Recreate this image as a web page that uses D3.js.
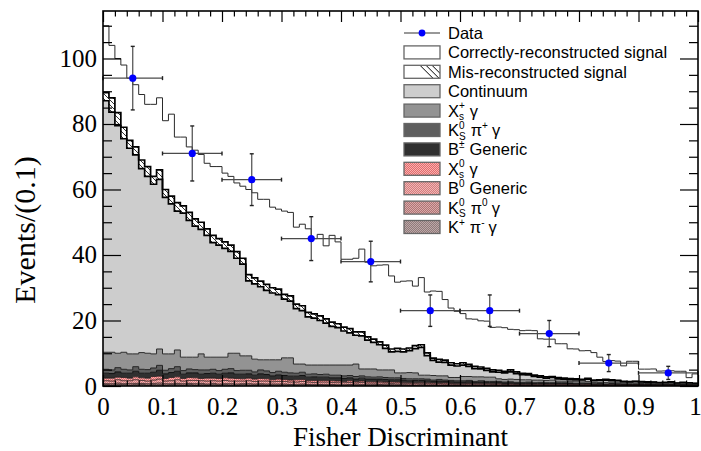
<!DOCTYPE html>
<html>
<head>
<meta charset="utf-8">
<script src="https://cdn.jsdelivr.net/npm/d3@7"></script>
<style>
  body { margin: 0; background: #fff; }
  svg { display: block; }
  .axis text { font-family: "Liberation Serif", "Times New Roman", serif; font-size: 25px; fill: #000; }
  .axis line { stroke: #000; stroke-width: 1.2px; }
  .title { font-family: "Liberation Serif", "Times New Roman", serif; fill: #000; }
  .legend text, .measure { font-family: "Liberation Sans", Arial, sans-serif; fill: #000; }
</style>
</head>
<body>
<div class="chart"></div>
<script>
// histogram binning
const nBins = 100;
const xLow = 0;
const xHigh = 1;

// tick values
const xMajorTicks = [0, 0.1, 0.2, 0.3, 0.4, 0.5, 0.6, 0.7, 0.8, 0.9, 1];
const xMinorTicks = [0.02, 0.04, 0.06, 0.08, 0.12, 0.14, 0.16, 0.18, 0.22, 0.24, 0.26, 0.28, 0.32, 0.34, 0.36, 0.38,
  0.42, 0.44, 0.46, 0.48, 0.52, 0.54, 0.56, 0.58, 0.62, 0.64, 0.66, 0.68, 0.72, 0.74, 0.76, 0.78,
  0.82, 0.84, 0.86, 0.88, 0.92, 0.94, 0.96, 0.98];
const yMajorTicks = [0, 20, 40, 60, 80, 100];
const yMinorTicks = [5, 10, 15, 25, 30, 35, 45, 50, 55, 65, 70, 75, 85, 90, 95, 105, 110];

// data points (events per 0.1)
const dataX = [0.05, 0.15, 0.25, 0.35, 0.45, 0.55, 0.65, 0.75, 0.85, 0.95];
const dataY = [94, 71, 63, 45, 38, 23, 23, 16, 7, 4];
const dataErr = [9.7, 8.4, 7.9, 6.7, 6.2, 4.8, 4.8, 4.0, 2.6, 2.0];
const dataHalfWidth = 0.05;

// stacked MC components, 100 bins each (bottom of the stack first)
const kPiMinus = [
  .4,.3,.5,.4,.3,.4,.5,.3,.4,.4, .3,.4,.4,.3,.5,.3,.4,.3,.4,.3,
  .4,.3,.3,.4,.3,.3,.4,.3,.3,.3, .3,.3,.2,.3,.3,.2,.3,.2,.3,.2,
  .2,.3,.2,.2,.2,.2,.3,.2,.2,.2, .2,.2,.1,.2,.2,.1,.2,.1,.2,.1,
  .1,.2,.1,.1,.1,.2,.1,.1,.1,.1, .1,.1,.1,.1,.1,.1,.1,.1,.1,.1,
  .1,.1,.1,.05,.1,.05,.1,.05,.05,.05, .05,.05,.05,.05,.05,.05,.05,.05,.05,.05];
const ks0Pi0 = [
  .3,.4,.4,.3,.5,.4,.3,.4,.4,.5, .4,.3,.4,.4,.3,.4,.4,.3,.4,.3,
  .3,.4,.3,.3,.4,.3,.3,.3,.3,.3, .3,.2,.3,.3,.2,.3,.2,.3,.2,.2,
  .2,.2,.2,.3,.2,.2,.2,.2,.2,.2, .2,.1,.2,.2,.1,.2,.1,.2,.1,.1,
  .1,.1,.1,.1,.1,.1,.1,.1,.1,.1, .1,.1,.1,.1,.1,.1,.1,.1,.05,.1,
  .05,.1,.05,.05,.05,.1,.05,.05,.05,.05, .05,.05,.05,.05,.05,.05,.05,.05,.05,.05];
const b0Generic = [
  .9,.8,1.0,.9,.8,1.1,.9,.8,1.0,1.2, .8,.9,1.1,.8,.9,1.0,.8,.9,.8,.9,
  1.0,.8,.9,.8,.9,.8,.8,.9,.7,.8, .8,.7,.7,.8,.7,.6,.7,.7,.6,.6,
  .6,.6,.5,.6,.5,.5,.5,.5,.4,.5, .4,.4,.4,.4,.4,.3,.4,.3,.3,.3,
  .3,.3,.3,.3,.3,.2,.3,.2,.2,.2, .2,.2,.2,.2,.2,.2,.2,.2,.2,.1,
  .1,.2,.1,.1,.1,.1,.1,.1,.1,.1, .1,.1,.05,.1,.05,.1,.05,.05,.1,.05];
const xs0Gamma = [
  .8,.9,.8,1.0,.8,.9,.8,.9,1.1,.9, .8,1.0,.9,.8,.9,.8,.7,.9,.8,.8,
  .8,.9,.8,.7,.8,.7,.8,.7,.6,.7, .6,.6,.7,.6,.5,.6,.5,.5,.5,.5,
  .4,.5,.4,.4,.4,.4,.4,.3,.4,.3, .3,.3,.3,.3,.3,.3,.2,.3,.2,.2,
  .2,.2,.2,.2,.2,.2,.2,.1,.2,.1, .1,.1,.1,.1,.1,.1,.1,.1,.1,.1,
  .1,.1,.05,.1,.05,.1,.05,.05,.05,.05, .05,.05,.05,.05,.05,.05,.05,.05,.05,.05];
const bPlusGeneric = [
  1.5,1.4,1.6,1.3,1.5,1.7,1.4,1.5,1.3,1.8, 1.4,1.5,1.7,1.3,1.4,1.5,1.3,1.4,1.5,1.3,
  1.4,1.6,1.3,1.4,1.3,1.2,1.4,1.3,1.2,1.3, 1.2,1.2,1.1,1.2,1.0,1.1,1.0,1.0,.9,1.0,
  .9,.9,.8,.9,.8,.8,.7,.8,.7,.7, .7,.6,.7,.6,.6,.5,.6,.5,.5,.5,
  .5,.5,.4,.5,.4,.4,.4,.4,.4,.3, .3,.4,.3,.3,.3,.3,.3,.3,.3,.2,
  .3,.2,.2,.3,.2,.2,.2,.2,.2,.2, .2,.2,.2,.1,.2,.2,.1,.2,.1,.1];
const ksPiPlus = [
  1.2,1.1,1.3,1.2,1.0,1.4,1.2,1.1,1.3,1.5, 1.1,1.2,1.4,1.1,1.2,1.0,1.3,1.1,1.2,1.1,
  1.2,1.3,1.1,1.2,1.1,1.0,1.2,1.1,1.0,1.1, 1.0,1.0,.9,1.0,.9,.9,.8,.9,.8,.8,
  .8,.7,.8,.7,.7,.6,.7,.6,.6,.6, .5,.6,.5,.5,.5,.4,.5,.4,.4,.4,
  .4,.4,.3,.4,.3,.3,.3,.3,.3,.3, .3,.3,.2,.3,.2,.2,.2,.2,.2,.2,
  .2,.2,.2,.2,.1,.2,.2,.1,.1,.1, .1,.1,.1,.1,.1,.1,.1,.1,.1,.1];
const xsPlusGamma = [
  5.2,5.4,4.4,5.2,4.9,3.9,5.1,5.0,4.3,5.0, 5.0,4.5,5.1,4.1,3.6,3.8,4.9,3.9,3.7,4.1,
  3.7,4.7,5.3,4.4,4.4,3.9,3.1,3.4,3.9,3.5, 4.4,4.6,2.8,2.5,2.8,2.7,2.9,2.8,3.1,3.1,
  3.3,3.2,3.8,2.1,2.4,2.5,2.1,2.3,2.4,1.5, 1.7,1.9,1.8,1.1,1.2,1.4,1.1,1.3,0.9,1.0,
  1.3,1.2,1.4,1.2,1.3,1.3,0.8,0.8,0.8,0.9, 0.8,0.7,0.8,0.7,0.7,0.8,0.5,0.5,0.5,0.5,
  0.4,0.5,0.4,0.3,0.5,0.4,0.3,0.3,0.3,0.3, 0.2,0.2,0.3,0.2,0.2,0.3,0.2,0.2,0.2,0.1];
const continuum = [
  76.8,73.3,69.5,65.2,62.8,60.8,56.2,54.0,51.8,51.8, 47.8,45.8,42.4,44.0,41.8,40.0,38.0,37.2,35.0,34.2,
  33.2,31.1,29.0,28.0,22.9,23.0,22.3,21.2,20.4,19.9, 17.9,17.3,16.9,16.3,14.7,14.3,13.6,12.8,11.8,11.4,
  10.4,9.8,8.8,10.1,8.8,8.1,7.7,6.6,5.5,6.6, 6.4,6.7,7.4,8.5,6.0,4.6,4.2,4.1,3.8,3.5,
  3.5,3.1,2.5,2.4,2.1,1.6,2.0,2.0,2.2,1.8, 1.6,1.5,1.1,0.9,0.7,0.8,0.7,0.6,0.5,0.6,
  0.6,0.7,0.5,0.6,0.7,0.5,0.6,0.4,0.4,0.5, 0.5,0.4,0.3,0.3,0.3,0.3,0.2,0.3,0.2,0.2];
const misReco = [
  2.5,4.4,4.0,3.5,2.4,2.4,2.6,3.0,2.4,2.9, 2.4,2.4,2.6,2.2,2.4,2.2,2.2,2.0,2.2,2.0,
  2.0,1.9,2.0,1.8,1.9,1.8,1.7,1.8,1.6,1.7, 1.5,1.6,1.4,1.5,1.4,1.3,1.4,1.3,1.3,1.2,
  1.2,1.3,1.0,1.2,1.0,1.0,0.9,1.0,0.9,0.9, 0.9,0.8,0.9,0.8,0.8,0.7,0.8,0.7,0.7,0.7,
  0.7,0.6,0.7,0.6,0.6,0.6,0.6,0.5,0.6,0.5, 0.4,0.4,0.4,0.4,0.4,0.3,0.4,0.3,0.3,0.3,
  0.2,0.2,0.2,0.2,0.2,0.2,0.1,0.2,0.1,0.1, 0.1,0.1,0.1,0.1,0.1,0.1,0.1,0.1,0.1,0.1];
const correctSignal = [
  20.4,16,16.5,19,19,19,20,19,22,22, 21,25,20,21,20,21,20.7,20,21,22,
  21,21,21,22,26,26,25,26,24.6,24.4, 25.4,25.5,23.5,24.9,25.5,23,24.9,22.3,26.5,25,
  20.7,21.2,22.5,25.3,22.8,22.4,23.4,24.5,22.3,20.2, 20.7,20.5,18.2,20.5,18.6,20.5,20.8,18.5,16.7,16,
  15,13.9,14.4,14.1,14.4,13,13.2,13.3,12.4,12.9, 13.0,13.2,13.6,11.3,11.5,11.4,10.3,10.5,9.1,9.1,
  8.7,8.5,8.4,6.9,5.5,5.9,5.9,4.7,6.2,6.1, 3.8,3.9,4.0,3.5,3.5,3.4,3.6,3.4,1.6,2.9];

const componentNames = ["kPiMinus", "ks0Pi0", "b0Generic", "xs0Gamma", "bPlusGeneric",
  "ksPiPlus", "xsPlusGamma", "continuum", "misReco", "correctSignal"];
const componentValues = [kPiMinus, ks0Pi0, b0Generic, xs0Gamma, bPlusGeneric,
  ksPiPlus, xsPlusGamma, continuum, misReco, correctSignal];

// drawing styles per component
const styles = {
  kPiMinus:      {fill: "url(#dotKPi)",  stroke: "#2a1a1a", width: 0.8},
  ks0Pi0:        {fill: "url(#dotKs0)",  stroke: "#2a1a1a", width: 0.8},
  b0Generic:     {fill: "url(#dotB0)",   stroke: "#2a1a1a", width: 0.8},
  xs0Gamma:      {fill: "url(#dotXs0)",  stroke: "#2a1a1a", width: 0.8},
  bPlusGeneric:  {fill: "#303030", stroke: "#111", width: 1},
  ksPiPlus:      {fill: "#5e5e5e", stroke: "#222", width: 1},
  xsPlusGamma:   {fill: "#939393", stroke: "#2a2a2a", width: 1},
  continuum:     {fill: "#cdcdcd", stroke: "#000", width: 1.7},
  misReco:       {fill: "url(#hatch)", stroke: "#000", width: 1.7},
  correctSignal: {fill: "#fff", stroke: "#2a2a2a", width: 1}
};

// legend labels: {t} plain text, {sup, sub} scripts, gap = space before a piece
const legendRows = [
  {kind: "data", parts: [{t: "Data"}]},
  {kind: "box", fill: "#fff", parts: [{t: "Correctly-reconstructed signal"}]},
  {kind: "box", fill: "url(#hatchLegend)", parts: [{t: "Mis-reconstructed signal"}]},
  {kind: "box", fill: "#cdcdcd", parts: [{t: "Continuum"}]},
  {kind: "box", fill: "#939393", parts: [{t: "X"}, {sup: "+", sub: "s"}, {t: "γ", gap: 5}]},
  {kind: "box", fill: "#5e5e5e", parts: [{t: "K"}, {sup: "0", sub: "S"}, {t: "π", gap: 5}, {sup: "+"}, {t: "γ", gap: 4}]},
  {kind: "box", fill: "#303030", parts: [{t: "B"}, {sup: "±"}, {t: "Generic", gap: 5}]},
  {kind: "box", fill: "url(#dotXs0)", parts: [{t: "X"}, {sup: "0", sub: "s"}, {t: "γ", gap: 5}]},
  {kind: "box", fill: "url(#dotB0)", parts: [{t: "B"}, {sup: "0"}, {t: "Generic", gap: 5}]},
  {kind: "box", fill: "url(#dotKs0)", parts: [{t: "K"}, {sup: "0", sub: "S"}, {t: "π", gap: 5}, {sup: "0"}, {t: "γ", gap: 4}]},
  {kind: "box", fill: "url(#dotKPi)", parts: [{t: "K"}, {sup: "+"}, {t: "π", gap: 5}, {sup: "-"}, {t: "γ", gap: 4}]}
];

const width = 701;
const height = 451;
const plot = {left: 103, right: 698, top: 11, bottom: 386};

function buildSvg() {
  let svg = d3.select(".chart").append("svg")
    .attr("width", width)
    .attr("height", height);
  return svg;
}

function buildPatterns(svg) {
  let defs = svg.append("defs");

  defs.append("clipPath").attr("id", "plotClip")
    .append("rect")
    .attr("x", plot.left).attr("y", plot.top)
    .attr("width", plot.right - plot.left).attr("height", plot.bottom - plot.top);

  let hatch = defs.append("pattern").attr("id", "hatch")
    .attr("patternUnits", "userSpaceOnUse").attr("width", 5).attr("height", 5);
  hatch.append("rect").attr("width", 5).attr("height", 5).attr("fill", "#fff");
  hatch.append("path").attr("d", "M-1,-1L6,6M-1,4L1,6M4,-1L6,1")
    .attr("stroke", "#000").attr("stroke-width", 0.8);

  let hatchLegend = defs.append("pattern").attr("id", "hatchLegend")
    .attr("patternUnits", "objectBoundingBox").attr("width", 1).attr("height", 1);
  hatchLegend.append("rect").attr("width", 36).attr("height", 13).attr("fill", "#fff");
  hatchLegend.append("path").attr("d", "M22,0L35,13M28,0L36,8M16,0L29,13")
    .attr("stroke", "#000").attr("stroke-width", 1);

  let dots = [
    {id: "dotXs0", base: "#e46a6a", light: "#f6b0b0"},
    {id: "dotB0", base: "#d67c7c", light: "#eeb6b6"},
    {id: "dotKs0", base: "#b07474", light: "#d8aaaa"},
    {id: "dotKPi", base: "#907a7a", light: "#bca8a8"}
  ];
  dots.forEach(function (d) {
    let p = defs.append("pattern").attr("id", d.id)
      .attr("patternUnits", "userSpaceOnUse").attr("width", 2).attr("height", 2);
    p.append("rect").attr("width", 2).attr("height", 2).attr("fill", d.base);
    p.append("rect").attr("width", 1).attr("height", 1).attr("fill", d.light);
    p.append("rect").attr("x", 1).attr("y", 1).attr("width", 1).attr("height", 1).attr("fill", d.light);
  });
}

function buildStack() {
  let binWidth = (xHigh - xLow) / nBins;
  let rows = d3.range(nBins).map(function (i) {
    let row = {lowEdge: xLow + i * binWidth};
    componentNames.forEach(function (name, k) { row[name] = componentValues[k][i]; });
    return row;
  });
  return d3.stack().keys(componentNames)(rows);
}

function stepPoints(series) {
  let pts = series.map(function (d) { return {x: d.data.lowEdge, y0: d[0], y1: d[1]}; });
  let last = pts[pts.length - 1];
  pts.push({x: xHigh, y0: last.y0, y1: last.y1});
  return pts;
}

function drawHistograms(svg, x, y) {
  let stacked = buildStack();
  let g = svg.append("g").attr("clip-path", "url(#plotClip)");

  let area = d3.area()
    .x(d => x(d.x))
    .y0(d => y(d.y0))
    .y1(d => y(d.y1))
    .curve(d3.curveStepAfter);

  let topLine = d3.line()
    .x(d => x(d.x))
    .y(d => y(d.y1))
    .curve(d3.curveStepAfter);

  stacked.forEach(function (s) {
    g.append("path")
      .datum(stepPoints(s))
      .attr("fill", styles[s.key].fill)
      .attr("stroke", "none")
      .attr("d", area);
  });

  // outlines, upper components first so the lower ones sit on top
  stacked.slice().reverse().forEach(function (s) {
    let st = styles[s.key];
    g.append("path")
      .datum(stepPoints(s))
      .attr("fill", "none")
      .attr("stroke", st.stroke)
      .attr("stroke-width", st.width)
      .attr("d", topLine);
  });
}

function drawDataPoints(svg, x, y) {
  let g = svg.append("g");
  let errColor = "#4a4a4a";

  dataX.forEach(function (cx, i) {
    let px = x(cx), py = y(dataY[i]);
    let xl = x(cx - dataHalfWidth), xr = x(cx + dataHalfWidth);
    let yt = y(dataY[i] + dataErr[i]), yb = y(dataY[i] - dataErr[i]);

    g.append("line").attr("x1", xl).attr("x2", xr).attr("y1", py).attr("y2", py)
      .attr("stroke", errColor).attr("stroke-width", 1.2);
    g.append("line").attr("x1", px).attr("x2", px).attr("y1", yt).attr("y2", yb)
      .attr("stroke", errColor).attr("stroke-width", 1.2);
    // small end caps
    [[xl, py, 0, 2], [xr, py, 0, 2], [px, yt, 2, 0], [px, yb, 2, 0]].forEach(function (c) {
      g.append("line")
        .attr("x1", c[0] - c[2]).attr("x2", c[0] + c[2])
        .attr("y1", c[1] - c[3]).attr("y2", c[1] + c[3])
        .attr("stroke", "#222").attr("stroke-width", 1.4);
    });
    g.append("circle").attr("cx", px).attr("cy", py).attr("r", 3.6).attr("fill", "#0000ff");
  });
}

function drawAxes(svg, x, y) {
  let fmt = d3.format("~g");

  let xLabels = svg.append("g").attr("class", "axis")
    .attr("transform", "translate(0," + plot.bottom + ")")
    .call(d3.axisBottom(x).tickValues(xMajorTicks).tickSize(-11).tickPadding(11).tickFormat(fmt))
    .call(g => g.select(".domain").remove());
  // keep the last label inside the canvas
  xLabels.selectAll(".tick text").filter(d => d === 1).attr("dx", "-3");

  svg.append("g").attr("class", "axis")
    .attr("transform", "translate(0," + plot.bottom + ")")
    .call(d3.axisBottom(x).tickValues(xMinorTicks).tickSize(-5.5).tickFormat(""))
    .call(g => g.select(".domain").remove());
  svg.append("g").attr("class", "axis")
    .attr("transform", "translate(0," + plot.top + ")")
    .call(d3.axisTop(x).tickValues(xMajorTicks).tickSize(-11).tickFormat(""))
    .call(g => g.select(".domain").remove());
  svg.append("g").attr("class", "axis")
    .attr("transform", "translate(0," + plot.top + ")")
    .call(d3.axisTop(x).tickValues(xMinorTicks).tickSize(-5.5).tickFormat(""))
    .call(g => g.select(".domain").remove());

  svg.append("g").attr("class", "axis")
    .attr("transform", "translate(" + plot.left + ",0)")
    .call(d3.axisLeft(y).tickValues(yMajorTicks).tickSize(-18).tickPadding(6).tickFormat(fmt))
    .call(g => g.select(".domain").remove());
  svg.append("g").attr("class", "axis")
    .attr("transform", "translate(" + plot.left + ",0)")
    .call(d3.axisLeft(y).tickValues(yMinorTicks).tickSize(-9).tickFormat(""))
    .call(g => g.select(".domain").remove());
  svg.append("g").attr("class", "axis")
    .attr("transform", "translate(" + plot.right + ",0)")
    .call(d3.axisRight(y).tickValues(yMajorTicks).tickSize(-18).tickFormat(""))
    .call(g => g.select(".domain").remove());
  svg.append("g").attr("class", "axis")
    .attr("transform", "translate(" + plot.right + ",0)")
    .call(d3.axisRight(y).tickValues(yMinorTicks).tickSize(-9).tickFormat(""))
    .call(g => g.select(".domain").remove());

  svg.append("rect")
    .attr("x", plot.left).attr("y", plot.top)
    .attr("width", plot.right - plot.left).attr("height", plot.bottom - plot.top)
    .attr("fill", "none").attr("stroke", "#000").attr("stroke-width", 1.6);

  svg.append("text").attr("class", "title")
    .attr("x", (plot.left + plot.right) / 2).attr("y", 446)
    .attr("text-anchor", "middle").attr("font-size", "27px")
    .text("Fisher Discriminant");

  svg.append("text").attr("class", "title")
    .attr("transform", "translate(35,230) rotate(-90)")
    .attr("text-anchor", "middle").attr("font-size", "30px")
    .text("Events/(0.1)");
}

function measure(svg, str, size) {
  let t = svg.append("text").attr("class", "measure")
    .attr("font-size", size + "px").text(str);
  let w = t.node().getComputedTextLength();
  t.remove();
  return w;
}

function drawLegend(svg) {
  let legend = svg.append("g").attr("class", "legend");
  let boxX = 404, boxW = 36, boxH = 13, textX = 448;
  let rowY0 = 33, rowStep = 19.4;
  let fontSize = 16.5, scriptSize = 10;

  legendRows.forEach(function (row, i) {
    let cy = rowY0 + i * rowStep;

    if (row.kind === "data") {
      legend.append("line").attr("x1", boxX).attr("x2", boxX + boxW)
        .attr("y1", cy).attr("y2", cy).attr("stroke", "#333").attr("stroke-width", 1.2);
      legend.append("circle").attr("cx", boxX + boxW / 2).attr("cy", cy).attr("r", 3.4).attr("fill", "#0000ff");
    } else {
      legend.append("rect")
        .attr("x", boxX).attr("y", cy - boxH / 2)
        .attr("width", boxW).attr("height", boxH)
        .attr("fill", row.fill).attr("stroke", "#666").attr("stroke-width", 1.3);
    }

    // one text element per row, each piece placed with an absolute tspan
    let baseline = cy + 6;
    let cursor = textX;
    let label = legend.append("text").attr("x", textX).attr("y", baseline)
      .attr("font-size", fontSize + "px");
    row.parts.forEach(function (part) {
      cursor += part.gap || 0;
      if (part.t) {
        label.append("tspan").attr("x", cursor).attr("y", baseline).text(part.t);
        cursor += measure(svg, part.t, fontSize);
      } else {
        let w = 0;
        if (part.sup) {
          label.append("tspan").attr("x", cursor).attr("y", baseline - 7.5)
            .attr("font-size", scriptSize + "px").text(part.sup);
          w = Math.max(w, measure(svg, part.sup, scriptSize));
        }
        if (part.sub) {
          label.append("tspan").attr("x", cursor).attr("y", baseline + 3.5)
            .attr("font-size", scriptSize + "px").text(part.sub);
          w = Math.max(w, measure(svg, part.sub, scriptSize));
        }
        cursor += w;
      }
    });
  });
}

function renderChart() {
  let svg = buildSvg();
  buildPatterns(svg);

  let x = d3.scaleLinear().domain([xLow, xHigh]).range([plot.left, plot.right]);
  let y = d3.scaleLinear().domain([0, 114.5]).range([plot.bottom, plot.top]);

  drawHistograms(svg, x, y);
  drawDataPoints(svg, x, y);
  drawAxes(svg, x, y);
  drawLegend(svg);
}

renderChart();
</script>
</body>
</html>
